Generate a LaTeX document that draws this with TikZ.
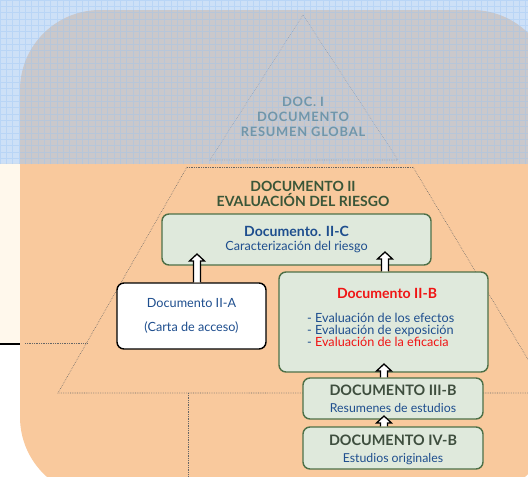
\documentclass[tikz,border=0pt]{standalone}
\usepackage{fontspec}
\setmainfont{Lato}
\usetikzlibrary{calc}
\definecolor{peach}{RGB}{249,201,157}
\definecolor{cream}{RGB}{255,248,236}
\definecolor{bandblue}{RGB}{165,200,242}
\definecolor{gridblue}{RGB}{150,195,245}
\definecolor{boxgreen}{RGB}{223,233,220}
\definecolor{edgegreen}{RGB}{78,112,72}
\definecolor{docblue}{RGB}{30,78,142}
\definecolor{titlegreen}{RGB}{58,86,56}
\definecolor{darkgreen}{RGB}{62,78,62}
\definecolor{docgray}{RGB}{112,150,170}
\definecolor{docred}{RGB}{240,20,20}
% hollow up arrow: #1 base, #2 tip
\newcommand\blockup[2]{\draw[blk] ($(#1)+(-3.5,0)$) -- ($(#2)+(-3.5,7)$) -- ($(#2)+(-7.5,7)$) -- (#2) -- ($(#2)+(7.5,7)$) -- ($(#2)+(3.5,7)$) -- ($(#1)+(3.5,0)$);}

\begin{document}
\begin{tikzpicture}[x=0.03cm,y=-0.03cm,
	pyr/.style={densely dotted, line width=0.5pt, black!60},
	gbox/.style={draw=edgegreen, fill=boxgreen, line width=1.2pt, rounded corners=6pt, inner sep=0pt},
	wbox/.style={draw=black, fill=white, line width=1.2pt, rounded corners=6pt, inner sep=0pt},
	blk/.style={draw=black, fill=white, line width=1.1pt, line join=miter},
	txt/.style={font=\fontsize{10.8}{12}\selectfont, text=docblue, align=center},
	]
		%%%%% START %%%%%
		\useasboundingbox (0,0) rectangle (528,477);
		\clip (0,0) rectangle (528,477);
		\fill[white] (0,0) rectangle (528,477);
		\fill[cream] (0,163) rectangle (20,344);
		\draw[line width=1pt] (0,344) -- (20,344);
		
		\fill[peach, rounded corners=2.4cm] (20,10) rectangle (552,497);
		
		% pyramid
		\draw[pyr] (303,15) -- (210,160) -- (398,160) -- cycle;
		\draw[pyr] (187,167) -- (413,167);
		\draw[pyr] (187,167) -- (58,393) -- (560,393);
		\draw[pyr] (413,167) -- (548,393);
		\draw[pyr] (25,343) -- (87,343);
		\draw[pyr] (188,393) -- (188,480);
		
		% blue band
		\fill[bandblue, opacity=0.55] (0,0) rectangle (528,164);
		\draw[gridblue, opacity=0.35, line width=0.4pt, step=0.19cm] (0,0) grid (528,164);
		
		\node[font=\bfseries\fontsize{11}{12.6}\selectfont\addfontfeature{LetterSpace=6}, text=docgray, align=center] (doci) at (303,117) {DOC. I\\DOCUMENTO\\RESUMEN GLOBAL};
		
		\node[font=\bfseries\fontsize{12}{10.4}\selectfont, text=titlegreen, align=center] (docii) at (303,194) {DOCUMENTO II\\EVALUACIÓN DEL RIESGO};
		
		% boxes
		\node[gbox, minimum width=8.07cm, minimum height=1.53cm] (iic) at (296.5,239.5) {};
		\node[txt] (iictext) at (iic) {{\bfseries\fontsize{12}{12}\selectfont Documento. II-C}\\Caracterización del riesgo};
		
		\node[wbox, minimum width=4.47cm, minimum height=1.98cm] (iia) at (191.5,316) {};
		\node[txt] (iiatext) at (iia) {Documento II-A\\[8pt](Carta de acceso)};
		
		\node[gbox, minimum width=6.27cm, minimum height=3.0cm] (iib) at (383.5,322) {};
		\node[font=\bfseries\fontsize{12}{12}\selectfont, text=docred] (iibtitle) at (387,293) {Documento II-B};
		\node[txt, align=left, anchor=west, font=\fontsize{10.8}{10.2}\selectfont] (iiblist) at (303,330) {- Evaluación de los efectos\\- Evaluación de exposición\\- \textcolor{docred}{Evaluación de la eficacia}};
		
		\node[gbox, minimum width=5.4cm, minimum height=1.23cm] (iiib) at (393,398.5) {};
		\node[txt, font=\fontsize{10.5}{14.5}\selectfont] (iiibtext) at (iiib) {\textcolor{darkgreen}{\bfseries\fontsize{12.3}{14.5}\selectfont DOCUMENTO III-B}\\Resumenes de estudios};
		
		\node[gbox, minimum width=5.4cm, minimum height=1.26cm] (ivb) at (393,448) {};
		\node[txt, font=\fontsize{10.5}{14.5}\selectfont] (ivbtext) at ([yshift=-2pt]ivb.center) {\textcolor{darkgreen}{\bfseries\fontsize{12.3}{14.5}\selectfont DOCUMENTO IV-B}\\Estudios originales};
		
		% arrows
		\coordinate (tipa) at (197,254);
		\coordinate (tipb) at (385,252);
		\coordinate (tipc) at (384,364);
		\coordinate (tipd) at (384,416);
		\blockup{tipa |- iia.north}{tipa}
		\blockup{tipb |- iib.north}{tipb}
		\blockup{tipc |- iiib.north}{tipc}
		\blockup{tipd |- ivb.north}{tipd}
		%%%%% END %%%%%
\end{tikzpicture}
\end{document}
